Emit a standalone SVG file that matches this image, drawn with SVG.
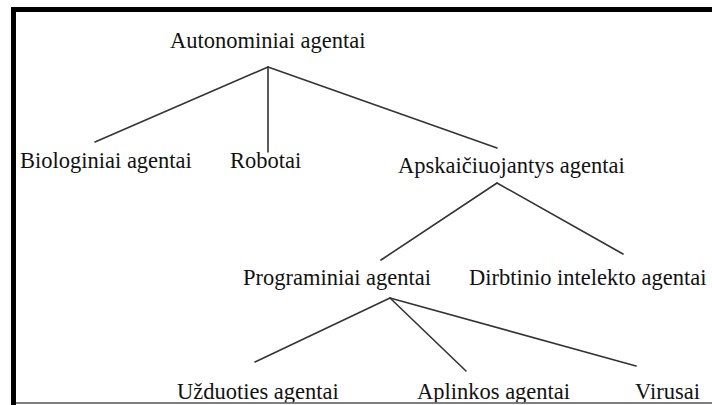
<svg xmlns="http://www.w3.org/2000/svg" width="712" height="405" viewBox="0 0 712 405">
  <style>
    .lbl { font-family: "Liberation Serif", "Times New Roman", serif; font-size: 22.5px; fill: #111; }
    .edge { stroke: #333; stroke-width: 1.6; fill: none; stroke-linecap: round; }
  </style>
  <rect width="712" height="405" fill="#fff"/>

  <!-- hierarchy connectors -->
  <g id="connectors">
    <line class="edge" x1="268" y1="67" x2="95" y2="142"/>
    <line class="edge" x1="268" y1="67" x2="268" y2="152"/>
    <line class="edge" x1="268" y1="67" x2="497" y2="148"/>
    <line class="edge" x1="497" y1="183" x2="381" y2="260"/>
    <line class="edge" x1="497" y1="183" x2="623" y2="254"/>
    <line class="edge" x1="390" y1="298" x2="255" y2="362"/>
    <line class="edge" x1="390" y1="298" x2="466" y2="371"/>
    <line class="edge" x1="390" y1="298" x2="636" y2="366"/>
  </g>

  <g id="autonominiai"><text class="lbl" x="170" y="48">Autonominiai agentai</text></g>
  <g id="biologiniai"><text class="lbl" x="20" y="168">Biologiniai agentai</text></g>
  <g id="robotai"><text class="lbl" x="230" y="168">Robotai</text></g>
  <g id="apskaiciuojantys"><text class="lbl" x="398" y="173">Apskaičiuojantys agentai</text></g>
  <g id="programiniai"><text class="lbl" x="243" y="285">Programiniai agentai</text></g>
  <g id="dirbtinio"><text class="lbl" x="469" y="285">Dirbtinio intelekto agentai</text></g>
  <g id="uzduoties"><text class="lbl" x="177" y="399">Užduoties agentai</text></g>
  <g id="aplinkos"><text class="lbl" x="417" y="399">Aplinkos agentai</text></g>
  <g id="virusai"><text class="lbl" x="635" y="399">Virusai</text></g>

  <!-- frame -->
  <g id="frame">
    <rect x="16" y="402.5" width="696" height="2.5" fill="#fff"/>
    <line x1="16" y1="403" x2="712" y2="403" stroke="#555" stroke-width="1.5"/>
    <rect x="11" y="7" width="701" height="5" fill="#000"/>
    <rect x="11" y="7" width="5" height="398" fill="#000"/>
  </g>
</svg>
